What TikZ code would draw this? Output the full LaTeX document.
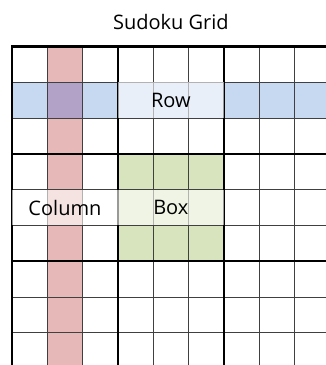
\documentclass[tikz,border=0pt]{standalone}
\usepackage{fontspec}
\setmainfont{Open Sans}
\usetikzlibrary{positioning}

\definecolor{colred}{HTML}{E6B9B8}
\definecolor{rowblue}{HTML}{C6D9F1}
\definecolor{mixpurple}{HTML}{B3A2C7}
\definecolor{boxgreen}{HTML}{D7E4BD}

\begin{document}
\begin{tikzpicture}[
    x=35.3pt, y=-35.8pt,
    % Define styles
    thinline/.style={draw=black!75, line width=0.9pt},
    thickline/.style={draw=black, line width=2.4pt, line cap=rect},
    label/.style={fill=white, fill opacity=0.6, text opacity=1, inner sep=0pt,
                  minimum width=105.9pt, minimum height=35.8pt,
                  font=\fontsize{20}{24}\selectfont},
    title/.style={font=\fontsize{20}{24}\selectfont}
]

    % --- FRAME (grid runs off the right and bottom edges) ---
    \useasboundingbox (-0.34,-1.299) rectangle (8.895,8.897);
    \clip (-0.34,-1.299) rectangle (8.895,8.897);

    \node (heading) [title] at (4.5,-0.68) {Sudoku Grid};

    % --- HIGHLIGHTS ---
    \fill[colred] (1,0) rectangle (2,9);
    \fill[rowblue] (0,1) rectangle (9,2);
    \fill[mixpurple] (1,1) rectangle (2,2);
    \fill[boxgreen] (3,3) rectangle (6,6);

    % --- GRID LINES ---
    \foreach \i in {1,2,4,5,7,8} {
        \draw[thinline] (\i,0) -- (\i,9);
        \draw[thinline] (0,\i) -- (9,\i);
    }
    \foreach \i in {0,3,6,9} {
        \draw[thickline] (\i,0) -- (\i,9);
        \draw[thickline] (0,\i) -- (9,\i);
    }

    % --- LABELS ---
    \node (row_lbl) [label] at (4.5,1.5) {Row};
    \node (col_lbl) [label] at (1.5,4.5) {Column};
    \node (box_lbl) [label] at (4.5,4.5) {Box};

\end{tikzpicture}
\end{document}
